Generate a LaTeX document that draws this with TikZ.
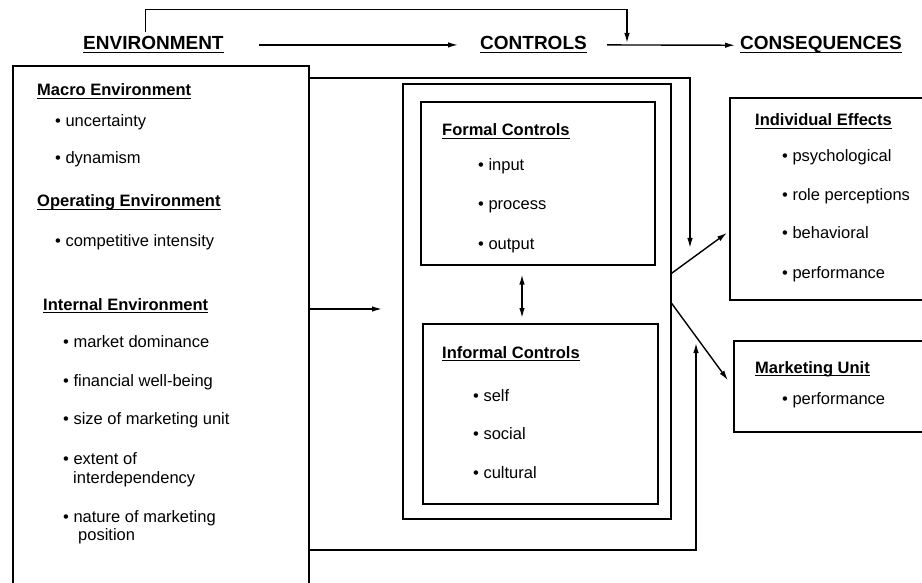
\documentclass[tikz,border=0pt]{standalone}
\usepackage{fontspec}
\setmainfont{Liberation Sans}
\usetikzlibrary{arrows.meta,calc}
% underline that sits just below the baseline and cuts through descenders
\newcommand\ulx[1]{\setbox0\hbox{#1}\rlap{\vrule width\wd0 height -1.6pt depth 3.1pt}\box0}
\tikzset{
  box/.style={draw, line width=1.6pt, inner sep=0pt, anchor=north west},
  head/.style={anchor=base west, inner sep=0pt, font=\fontsize{19}{22}\selectfont\bfseries},
  sub/.style={anchor=base west, inner sep=0pt, font=\fontsize{16.5}{19}\selectfont\bfseries},
  item/.style={anchor=base west, inner sep=0pt, font=\fontsize{16.5}{19}\selectfont},
  arr/.style={line width=1.4pt, -{Latex[length=10pt,width=5.5pt]}},
  dblarr/.style={line width=1.4pt, {Latex[length=10pt,width=5.5pt]}-{Latex[length=10pt,width=5.5pt]}},
}
\begin{document}
\begin{tikzpicture}[x=1pt,y=-1pt]
\useasboundingbox (0,0) rectangle (922,583);
\clip (0,0) rectangle (922,583);

% column headings
\node[head] (envh)  at (83,50)  {\ulx{ENVIRONMENT}};
\node[head] (ctrlh) at (480,50) {\ulx{CONTROLS}};
\node[head] (consh) at (740,50) {\ulx{CONSEQUENCES}};

% boxes
\node[box, minimum width=296pt, minimum height=560pt] (envbox)   at (12,65)   {};
\node[box, minimum width=268pt, minimum height=435pt] (ctrlouter) at (402,83) {};
\node[box, minimum width=234pt, minimum height=163pt] (formal)   at (420,101) {};
\node[box, minimum width=235pt, minimum height=180pt] (informal) at (422,323) {};
\node[box, minimum width=220pt, minimum height=202pt] (indiv)    at (729,97)  {};
\node[box, minimum width=216pt, minimum height=91pt]  (mkt)      at (733,340) {};

% environment contents
\node[sub]  at (37,96)  {\ulx{Macro Environment}};
\node[item] at (55,127) {\textbullet\ uncertainty};
\node[item] at (55,164) {\textbullet\ dynamism};
\node[sub]  at (37,207) {\ulx{Operating Environment}};
\node[item] at (55,247) {\textbullet\ competitive intensity};
\node[sub]  at (43,310) {\ulx{Internal Environment}};
\node[item] at (63,347) {\textbullet\ market dominance};
\node[item] at (63,386) {\textbullet\ financial well-being};
\node[item] at (63,424) {\textbullet\ size of marketing unit};
\node[item] at (63,464) {\textbullet\ extent of};
\node[item] at (73,483) {interdependency};
\node[item] at (63,522) {\textbullet\ nature of marketing};
\node[item] at (78,540) {position};

% controls contents
\node[sub]  at (442,136) {\ulx{Formal Controls}};
\node[item] at (478,171) {\textbullet\ input};
\node[item] at (478,210) {\textbullet\ process};
\node[item] at (478,249) {\textbullet\ output};
\node[sub]  at (442,358) {\ulx{Informal Controls}};
\node[item] at (473,401) {\textbullet\ self};
\node[item] at (473,439) {\textbullet\ social};
\node[item] at (473,478) {\textbullet\ cultural};

% consequences contents
\node[sub]  at (755,126) {\ulx{Individual Effects}};
\node[item] at (782,162) {\textbullet\ psychological};
\node[item] at (782,201) {\textbullet\ role perceptions};
\node[item] at (782,239) {\textbullet\ behavioral};
\node[item] at (782,278) {\textbullet\ performance};
\node[sub]  at (755,373) {\ulx{Marketing Unit}};
\node[item] at (782,404) {\textbullet\ performance};

% free ends and bends
\coordinate (fbe) at (627,43);
\coordinate (t1)  at (690,78);
\coordinate (e1)  at (690,248);
\coordinate (e2)  at (382,309);
\coordinate (b1)  at (696,550);
\coordinate (e3)  at (696,343);
\coordinate (dx)  at (522,0);

% heading arrows
\draw[arr] ([xshift=35pt]envh.east) -- ([xshift=-22pt]ctrlh.west);
\draw[arr] ([xshift=20pt]ctrlh.east) -- ([xshift=-5pt]consh.west);
\draw[arr] ([xshift=-8pt,yshift=5pt]envh.north) -- ++(0,-22) -| (fbe);

% environment to controls and consequences
\draw[arr] (envbox.east |- t1) -- (t1) -- (e1);
\draw[arr] (envbox.east |- e2) -- (e2);
\draw[arr] (envbox.east |- b1) -- (b1) -- (e3);

% between the two kinds of control
\draw[dblarr, shorten <=9pt, shorten >=5pt] (formal.south -| dx) -- (informal.north -| dx);

% controls to consequences
\draw[arr] ([yshift=28pt]ctrlouter.east) -- ([xshift=-2pt,yshift=-34pt]indiv.west);
\draw[arr] ([yshift=-2pt]ctrlouter.east) -- ([xshift=-5pt,yshift=6pt]mkt.west);
\end{tikzpicture}
\end{document}
